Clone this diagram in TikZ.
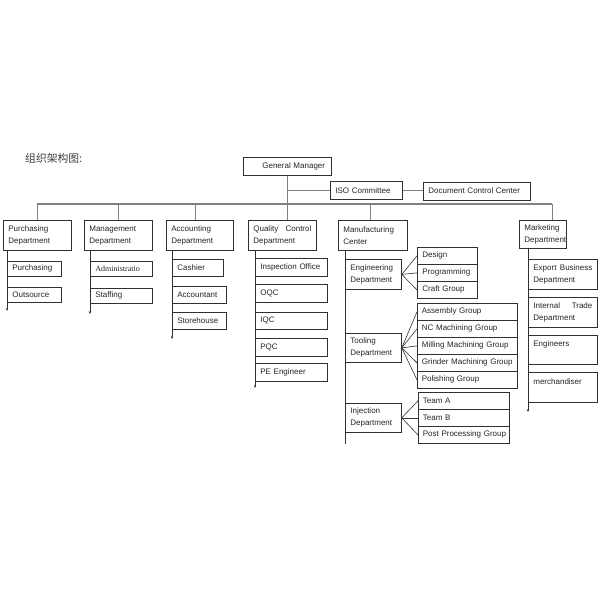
\documentclass[tikz,border=0pt]{standalone}
\usepackage{fontspec}
\setmainfont{Liberation Sans}
\newfontfamily\serifb{Liberation Serif}
\newfontfamily\cjk{Noto Sans CJK SC}
\usetikzlibrary{arrows.meta}
\definecolor{boxc}{HTML}{303030}
\definecolor{linec}{HTML}{808080}
\definecolor{txtc}{HTML}{262626}
\definecolor{titlec}{HTML}{404040}
\newcommand\bxfont{\fontsize{8}{12}\selectfont\spaceskip=0.36em plus 0.1em\relax}
\newcommand\bxserif{\serifb\fontsize{8}{12}\selectfont}
\newcommand\ttlfont{\cjk\fontsize{10.8}{12}\selectfont}
\begin{document}
\begin{tikzpicture}[x=1pt,y=-1pt,
 box/.style={draw=boxc, line width=0.75pt, anchor=north west, inner xsep=5pt, inner ysep=0pt, align=left, text=txtc, font=\bxfont},
 bus/.style={draw=linec, line width=1.3pt},
 drop/.style={draw=linec, line width=0.8pt},
 stem/.style={draw=boxc, line width=0.9pt},
 stemarrow/.style={stem, -{Stealth[length=3pt,width=2.4pt]}},
 fan/.style={draw=boxc, line width=0.6pt}]

\fill[white] (0,0) rectangle (600,600);
\useasboundingbox (0,0) rectangle (600,600);

\node[anchor=west, font=\ttlfont, text=titlec, inner sep=0pt] (title) at (25,158) {组织架构图:};

% top
\node[box, text width=78pt, minimum height=18pt] (gm) at (243,157) {\hspace*{14pt}General Manager};
\node[box, text width=62pt, minimum height=18pt] (iso) at (330,181) {ISO Committee};
\node[box, text width=97pt, minimum height=18pt] (dcc) at (423,181.5) {Document Control Center};

% level 1
\node[box, text width=58pt, minimum height=30pt] (pur) at (3,220) {Purchasing\\Department};
\node[box, text width=58pt, minimum height=30pt] (mgt) at (84,220) {Management\\Department};
\node[box, text width=57pt, minimum height=30pt] (acc) at (166,220) {Accounting\\Department};
\node[box, text width=58pt, minimum height=30pt] (qc) at (248,220) {Quality\hfill Control\\Department};
\node[box, text width=59pt, minimum height=30pt] (mfg) at (338,220) {Manufacturing\\Center};
\node[box, text width=37pt, minimum height=28pt] (mkt) at (519,220) {Marketing\\Department};

% bus
\coordinate (busL) at (37,204);
\coordinate (busR) at (552,204);
\draw[bus] (busL) -- (busR);
\draw[drop] (gm.south) -- (gm.south |- busL);
\draw[drop] (gm.south |- iso.west) -- (iso.west);
\draw[drop] (iso.east) -- (iso.east -| dcc.west);
\draw[drop] (pur.north) -- (pur.north |- busL);
\draw[drop] (mgt.north) -- (mgt.north |- busL);
\draw[drop] ([xshift=-4.5pt]acc.north) -- ([xshift=-4.5pt]acc.north |- busL);
\draw[drop] ([xshift=5pt]qc.north) -- ([xshift=5pt]qc.north |- busL);
\draw[drop] ([xshift=-2.5pt]mfg.north) -- ([xshift=-2.5pt]mfg.north |- busL);
\draw[drop] ([xshift=9.5pt]mkt.north) -- ([xshift=9.5pt]mkt.north |- busL);

% Purchasing
\node[box, text width=44pt, minimum height=15pt] (p1) at (7,261) {Purchasing};
\node[box, text width=44pt, minimum height=15pt] (p2) at (7,287) {Outsource};
\coordinate (pend) at (7,311);
\draw[stemarrow] (pend |- pur.south) -- (pend);

% Management
\node[box, text width=52pt, minimum height=15pt, font=\bxserif] (m1) at (90,261) {Administratio};
\node[box, text width=52pt, minimum height=15pt] (m2) at (90,288) {Staffing};
\coordinate (mend) at (90,314);
\draw[stemarrow] (mend |- mgt.south) -- (mend);

% Accounting
\node[box, text width=41pt, minimum height=17pt] (a1) at (172,259) {Cashier};
\node[box, text width=44pt, minimum height=17pt] (a2) at (172,286) {Accountant};
\node[box, text width=44pt, minimum height=17pt] (a3) at (172,312) {Storehouse};
\coordinate (aend) at (172,339);
\draw[stemarrow] (aend |- acc.south) -- (aend);

% Quality control
\node[box, text width=62pt, minimum height=18pt] (q1) at (255,258) {Inspection Office};
\node[box, text width=62pt, minimum height=18pt] (q2) at (255,284) {OQC};
\node[box, text width=62pt, minimum height=17pt] (q3) at (255,312) {IQC};
\node[box, text width=62pt, minimum height=18pt] (q4) at (255,338) {PQC};
\node[box, text width=62pt, minimum height=18pt] (q5) at (255,363) {PE Engineer};
\coordinate (qend) at (255,388);
\draw[stemarrow] (qend |- qc.south) -- (qend);

% Manufacturing
\node[box, text width=46pt, minimum height=30pt] (eng) at (345,259) {Engineering\\Department};
\node[box, text width=46pt, minimum height=29pt] (tool) at (345,333) {Tooling\\Department};
\node[box, text width=46pt, minimum height=29pt] (inj) at (345,403) {Injection\\Department};
\coordinate (fend) at (345,444);
\draw[stem] (fend |- mfg.south) -- (fend);

\node[box, text width=50pt, minimum height=17pt] (e1) at (417,247) {Design};
\node[box, text width=50pt, minimum height=17pt] (e2) at (417,264) {Programming};
\node[box, text width=50pt, minimum height=17pt] (e3) at (417,281) {Craft Group};
\draw[fan] (eng.east) -- (e1.west);
\draw[fan] (eng.east) -- (e2.west);
\draw[fan] (eng.east) -- (e3.west);

\node[box, inner xsep=4.5pt, text width=91pt, minimum height=17pt] (t1) at (417,303) {Assembly Group};
\node[box, inner xsep=4.5pt, text width=91pt, minimum height=17pt] (t2) at (417,320) {NC Machining Group};
\node[box, inner xsep=4.5pt, text width=91pt, minimum height=17pt] (t3) at (417,337) {\mbox{Milling Machining Group}};
\node[box, inner xsep=4.5pt, text width=91pt, minimum height=17pt] (t4) at (417,354) {\mbox{Grinder Machining Group}};
\node[box, inner xsep=4.5pt, text width=91pt, minimum height=17pt] (t5) at (417,371) {Polishing Group};
\foreach \t in {t1,t2,t3,t4,t5} \draw[fan] (tool.east) -- (\t.west);

\node[box, inner xsep=4.5pt, text width=82pt, minimum height=17pt] (j1) at (418,392) {Team A};
\node[box, inner xsep=4.5pt, text width=82pt, minimum height=17pt] (j2) at (418,409) {Team B};
\node[box, inner xsep=4.5pt, text width=82pt, minimum height=17pt] (j3) at (418,426) {\mbox{Post Processing Group}};
\foreach \t in {j1,j2,j3} \draw[fan] (inj.east) -- (\t.west);

% Marketing
\node[box, text width=59pt, minimum height=30pt] (k1) at (528,259) {Export\hfill Business\\Department};
\node[box, text width=59pt, minimum height=30pt] (k2) at (528,297) {Internal\hfill Trade\\Department};
\node[box, text width=59pt, minimum height=29pt] (k3) at (528,335) {Engineers\\\mbox{}};
\node[box, text width=59pt, minimum height=30pt] (k4) at (528,372) {merchandiser\\\mbox{}};
\coordinate (kend) at (528,412);
\draw[stemarrow] (kend |- mkt.south) -- (kend);
\end{tikzpicture}
\end{document}
